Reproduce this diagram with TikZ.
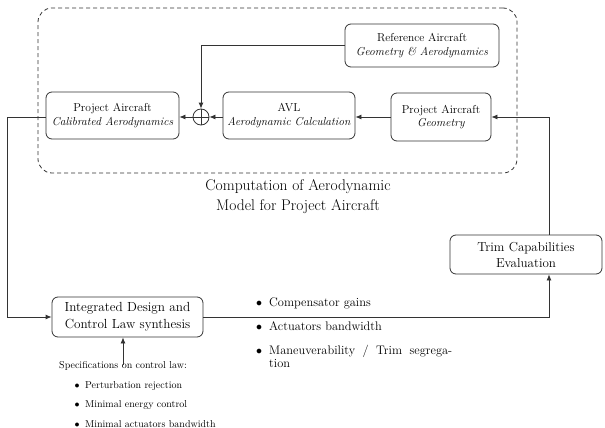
\documentclass[tikz,border=0pt]{standalone}
\usepackage{fontspec}
\usetikzlibrary{arrows.meta}
\tikzset{
  ln/.style={line width=0.8pt, draw=black!80},
  arr/.style={ln, -{Latex[length=6pt,width=5pt]}},
  blk/.style={ln, draw, rounded corners=6pt, align=center, inner sep=0pt,
    font=\fontsize{11.5}{13.5}\selectfont},
  bigblk/.style={ln, draw, rounded corners=6pt, align=center, inner sep=0pt},
  grpbox/.style={ln, draw, dash pattern=on 4pt off 3pt, rounded corners=14pt, inner sep=0pt},
  sumnode/.style={ln, draw, circle, minimum size=16pt, inner sep=0pt},
  txt/.style={inner sep=0pt, anchor=west, align=left},
}
\begin{document}
\begin{tikzpicture}[x=1pt,y=-1pt]
\useasboundingbox (0,0) rectangle (605,428);
% group
\node[grpbox, minimum width=479pt, minimum height=165pt] (grp) at (277.5,90.5) {};
% blocks
\node[blk, minimum width=154pt, minimum height=43pt] (ref) at (422,45.5)
  {Reference Aircraft\\\textit{Geometry \& Aerodynamics}};
\node[blk, minimum width=133pt, minimum height=47pt] (cal) at (112.5,115.5)
  {Project Aircraft\\\textit{Calibrated Aerodynamics}};
\node[blk, minimum width=132pt, minimum height=47pt] (avl) at (289,115.5)
  {AVL\\\textit{Aerodynamic Calculation}};
\node[blk, minimum width=100pt, minimum height=48pt] (geo) at (441,117)
  {Project Aircraft\\\textit{Geometry}};
\node[sumnode] (sum) at (201,117) {};
\draw[ln] (sum.north) -- (sum.south) (sum.west) -- (sum.east);
% label
\node[inner sep=0pt, align=center, font=\fontsize{15.5}{20}\selectfont] (lbl) at (298,197)
  {Computation of Aerodynamic\\Model for Project Aircraft};
% lower blocks
\node[bigblk, minimum width=151pt, minimum height=40pt, font=\fontsize{13.2}{17}\selectfont] (int) at (127.5,317)
  {Integrated Design and\\Control Law synthesis};
\node[bigblk, minimum width=152pt, minimum height=39pt, font=\fontsize{13}{16}\selectfont] (trim) at (526,254.5)
  {Trim Capabilities\\Evaluation};
% coordinates
\coordinate (lc) at (7,117);
\coordinate (rc) at (549,117);
% connectors upper
\draw[arr] (geo.west) -- (avl.east |- geo.west);
\draw[arr] (avl.west |- sum) -- (sum.east);
\draw[arr] (sum.west) -- (cal.east |- sum);
\draw[arr] (ref.west) -| (sum.north);
% loop
\draw[arr] (lc -| cal.west) -- (lc) |- (int.west);
\draw[arr] (int.east) -| (rc |- trim.south);
\draw[arr] (rc |- trim.north) -- (rc) -- (geo.east);
% right bullets
\begin{scope}[font=\fontsize{12.4}{13.5}\selectfont]
\node[txt] (b1) at (256,303) {\makebox[13pt][l]{$\bullet$}Compensator gains};
\node[txt] (b2) at (256,326) {\makebox[13pt][l]{$\bullet$}Actuators bandwidth};
\node[txt] (b3) at (256,356.5) {\makebox[13pt][l]{$\bullet$}\makebox[183pt][s]{Maneuverability / Trim segrega-}\\\hspace*{13pt}tion};
\end{scope}
% specs
\begin{scope}[font=\fontsize{10}{12}\selectfont]
\node[txt] (spec) at (59,366) {Specifications on control law:};
\node[txt] (s1) at (74.5,386) {\makebox[10.5pt][l]{$\bullet$}Perturbation rejection};
\node[txt] (s2) at (74.5,405) {\makebox[10.5pt][l]{$\bullet$}Minimal energy control};
\node[txt] (s3) at (74.5,424) {\makebox[10.5pt][l]{$\bullet$}Minimal actuators bandwidth};
\end{scope}
\draw[arr] ([yshift=-4pt]spec.north) -- (spec.north |- int.south);
\end{tikzpicture}
\end{document}
